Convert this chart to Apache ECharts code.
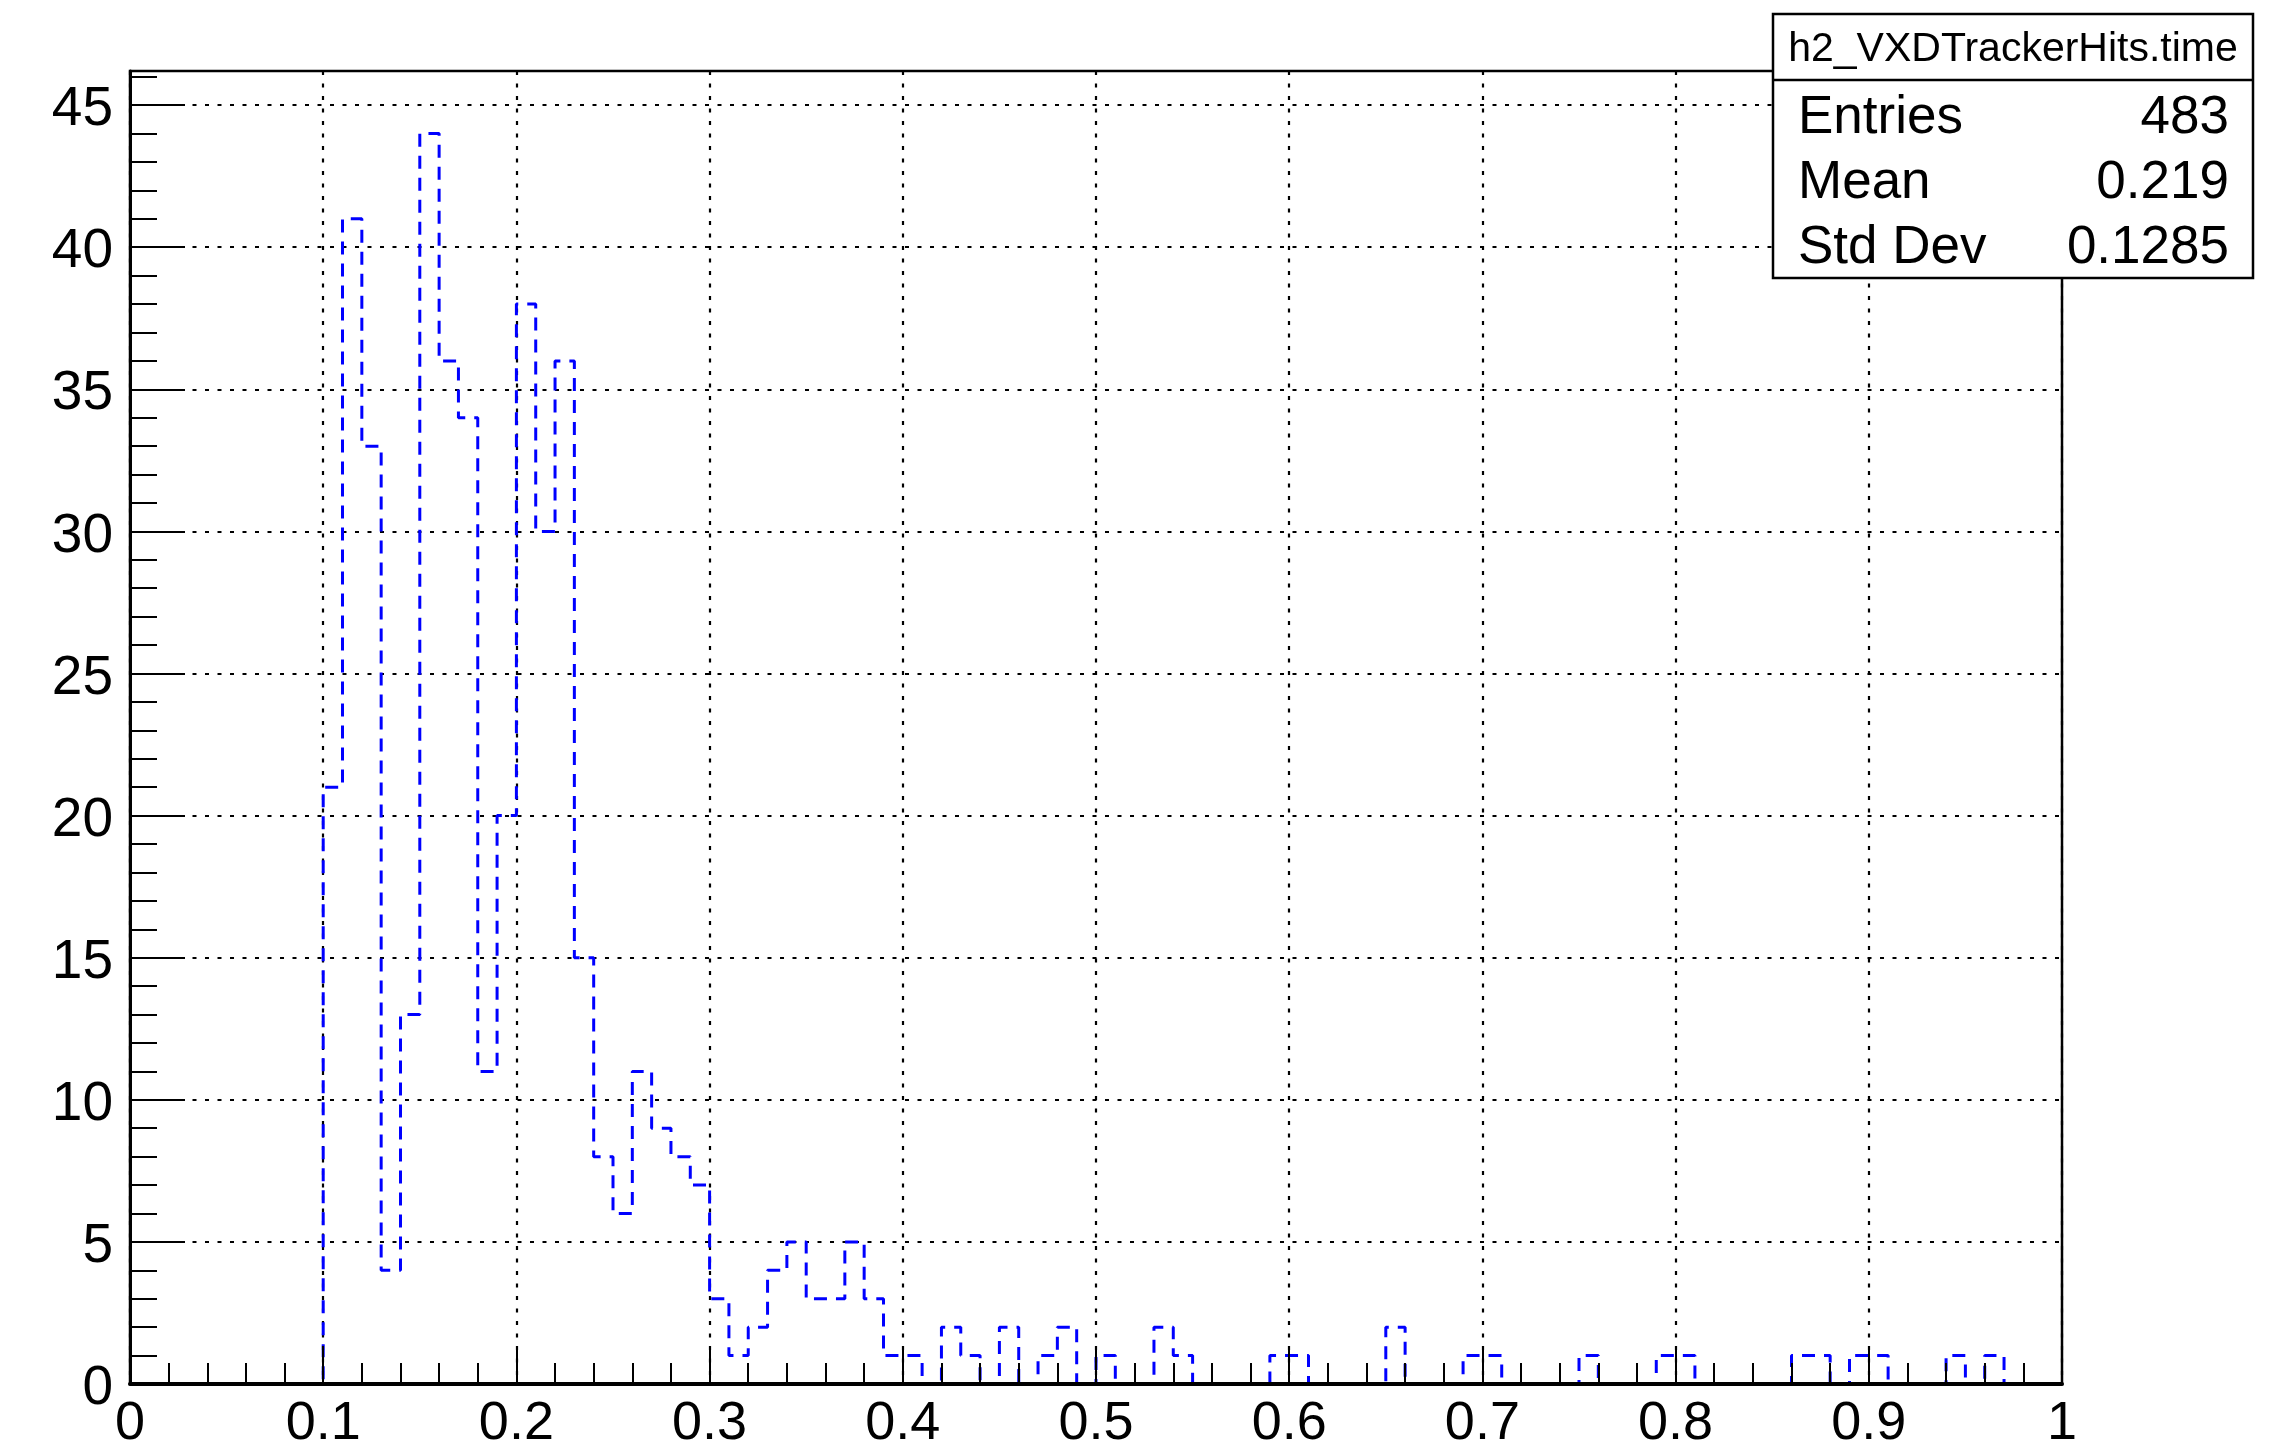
<!DOCTYPE html>
<html>
<head>
<meta charset="utf-8">
<script src="https://cdn.jsdelivr.net/npm/echarts@6/dist/echarts.min.js"></script>
<style>
  html, body { margin: 0; padding: 0; background: #ffffff; }
  #chart { width: 2284px; height: 1451px; }
</style>
</head>
<body>
<div id="chart"></div>
<script>
// Histogram binning: 100 bins of width 0.01 on [0, 1]
const xMin = 0;
const xMax = 1;
const binWidth = 0.01;

// Bin contents, one per bin, from x = 0.00 upward
const counts = [
  0, 0, 0, 0, 0, 0, 0, 0, 0, 0,
  21, 41, 33, 4, 13, 44, 36, 34, 11, 20,
  38, 30, 36, 15, 8, 6, 11, 9, 8, 7,
  3, 1, 2, 4, 5, 3, 3, 5, 3, 1,
  1, 0, 2, 1, 0, 2, 0, 1, 2, 0,
  1, 0, 0, 2, 1, 0, 0, 0, 0, 1,
  1, 0, 0, 0, 0, 2, 0, 0, 0, 1,
  1, 0, 0, 0, 0, 1, 0, 0, 0, 1,
  1, 0, 0, 0, 0, 0, 1, 1, 0, 1,
  1, 0, 0, 0, 1, 0, 1, 0, 0, 0
];

// Axis ranges and tick spacing
const yMin = 0;
const yMax = 46.2;
const xMajorStep = 0.1;
const xMinorDivisions = 5;
const yMajorStep = 5;
const yMinorStep = 1;

// Statistics box
const statsTitle = 'h2_VXDTrackerHits.time';
const statNames = ['Entries', 'Mean', 'Std Dev'];
const statValues = ['483', '0.219', '0.1285'];

// Step outline: each bin's low edge carries its content, closed at xMax
const stepData = counts.map((c, i) => [+(xMin + i * binWidth).toFixed(4), c]);
stepData.push([xMax, counts[counts.length - 1]]);

const FONT = '"Liberation Sans", Arial, Helvetica, sans-serif';
const black = '#000000';

const chart = echarts.init(document.getElementById('chart'), null, { renderer: 'canvas' });

const gridLine = { show: true, lineStyle: { color: '#000000', width: 2.2, type: [4, 8.5] } };

// Stats box pieces, all on an upper layer so the plot does not show through
const boxLeft = 1773, boxTop = 14, boxWidth = 480, boxHeight = 264, boxSplit = 80;
const statsElements = [
  { type: 'rect', shape: { x: boxLeft, y: boxTop, width: boxWidth, height: boxHeight },
    style: { fill: '#ffffff', stroke: black, lineWidth: 2.5 } },
  { type: 'line', shape: { x1: boxLeft, y1: boxSplit, x2: boxLeft + boxWidth, y2: boxSplit },
    style: { stroke: black, lineWidth: 2.5 } },
  { type: 'text', x: boxLeft + boxWidth / 2, y: 50,
    style: { text: statsTitle, fill: black, font: '41px ' + FONT, align: 'center', verticalAlign: 'middle' } }
].concat(statNames.map((name, i) => ({
  type: 'text', x: 1798, y: 118 + i * 65,
  style: { text: name, fill: black, font: '53px ' + FONT, align: 'left', verticalAlign: 'middle' }
}))).concat(statValues.map((val, i) => ({
  type: 'text', x: 2229, y: 118 + i * 65,
  style: { text: val, fill: black, font: '53px ' + FONT, align: 'right', verticalAlign: 'middle' }
}))).map(el => Object.assign(el, { z: 100, zlevel: 2 }));

const option = {
  animation: false,
  backgroundColor: '#ffffff',
  grid: {
    left: 130, right: 222, top: 71, bottom: 63,
    containLabel: false,
    show: true, borderColor: black, borderWidth: 2.5, backgroundColor: 'transparent'
  },
  xAxis: [
    {
      // data axis carrying the vertical grid lines
      type: 'value', min: xMin, max: xMax, interval: xMajorStep, position: 'bottom',
      axisLine: { show: false }, axisTick: { show: false }, axisLabel: { show: false },
      splitLine: gridLine
    },
    {
      // frame axis with ticks and labels, on a layer above the histogram
      type: 'value', min: xMin, max: xMax, interval: xMajorStep, position: 'bottom', zlevel: 1,
      axisLine: { show: true, onZero: false, lineStyle: { color: black, width: 4 } },
      axisTick: { show: true, inside: true, length: 38, lineStyle: { color: black, width: 2 } },
      minorTick: { show: true, splitNumber: xMinorDivisions, length: 21, lineStyle: { color: black, width: 2 } },
      axisLabel: { show: true, margin: 13, color: black, fontSize: 54, fontFamily: FONT },
      splitLine: { show: false }
    }
  ],
  yAxis: [
    {
      type: 'value', min: yMin, max: yMax, interval: yMajorStep, position: 'left',
      axisLine: { show: false }, axisTick: { show: false }, axisLabel: { show: false },
      splitLine: gridLine
    },
    {
      type: 'value', min: yMin, max: yMax, interval: yMajorStep, position: 'left', zlevel: 1,
      axisLine: { show: true, onZero: false, lineStyle: { color: black, width: 3 } },
      axisTick: { show: true, inside: true, length: 55, lineStyle: { color: black, width: 2 } },
      axisLabel: { show: true, margin: 17, color: black, fontSize: 55, fontFamily: FONT,
                   showMaxLabel: false, verticalAlign: 'top', lineHeight: 10 },
      splitLine: { show: false }
    },
    {
      type: 'value', min: yMin, max: yMax, interval: yMinorStep, position: 'left', zlevel: 1,
      axisLine: { show: false },
      axisTick: { show: true, inside: true, length: 27, lineStyle: { color: black, width: 2 } },
      axisLabel: { show: false },
      splitLine: { show: false }
    }
  ],
  series: [
    {
      type: 'line',
      xAxisIndex: 0,
      yAxisIndex: 0,
      step: 'end',
      data: stepData,
      showSymbol: false,
      symbol: 'none',
      z: 3,
      lineStyle: { color: '#0000ff', width: 3, type: [13, 9] }
    }
  ],
  graphic: { elements: statsElements }
};

chart.setOption(option);
</script>
</body>
</html>
